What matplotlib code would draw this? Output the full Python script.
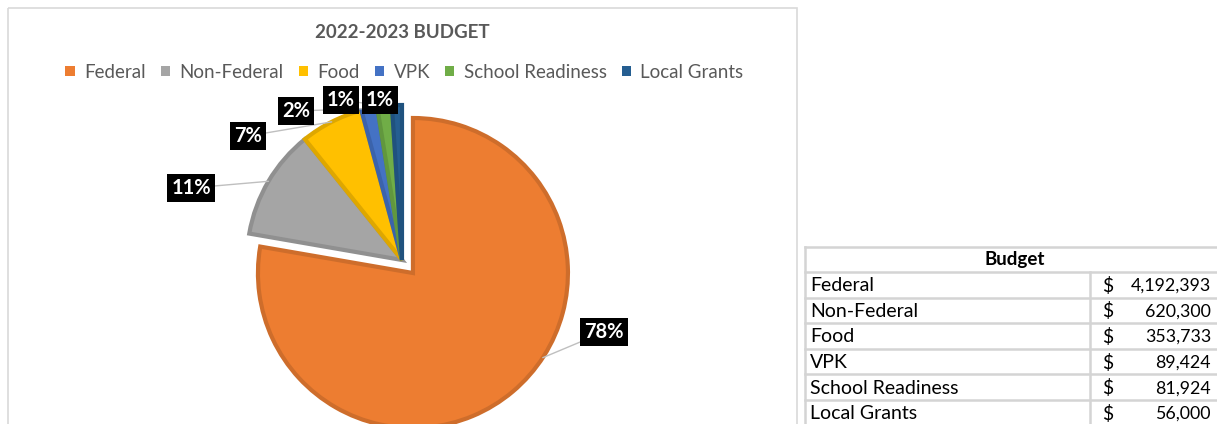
import matplotlib.pyplot as plt
from matplotlib.patches import Patch, Rectangle
from matplotlib.colors import to_rgb
import numpy as np

# Dữ liệu
categories = ['Federal', 'Non-Federal', 'Food', 'VPK', 'School Readiness', 'Local Grants']
budget = [4192393, 620300, 353733, 89424, 81924, 56000]
pct_labels = ['78%', '11%', '7%', '2%', '1%', '1%']
colors = ['#ED7D31', '#A5A5A5', '#FFC000', '#4472C4', '#70AD47', '#255E91']

plt.rcParams['font.family'] = ['Lato', 'DejaVu Sans']

W, H = 1217, 424
fig = plt.figure(figsize=(W / 100, H / 100), dpi=100)
ax = fig.add_axes([0, 0, 1, 1])

# Khung biểu đồ
ax.add_patch(Rectangle((8, 8), 789, 440, fill=False, ec='#d9d9d9', lw=1.2))

# Pie (trục y đảo ngược, tọa độ pixel)
wedges, _ = ax.pie(budget, colors=colors, startangle=-90, counterclock=True,
                   center=(402, 260), radius=155, explode=[17, 0, 0, 0, 0, 0],
                   wedgeprops=dict(linewidth=3))
for w, c in zip(wedges, colors):
    w.set_edgecolor(tuple(v * 0.87 for v in to_rgb(c)))
    w.set_joinstyle('miter')

# Nhãn phần trăm
label_xy = [(604, 332), (191, 188), (248, 136), (296, 111), (341, 100), (380, 100)]
leader_frac = [0.44, 0.5, 0.5, 0.5, 0.5, 0.5]
for w, txt, xy, fr in zip(wedges, pct_labels, label_xy, leader_frac):
    t = np.deg2rad(w.theta1 + fr * (w.theta2 - w.theta1))
    cx, cy = w.center
    px, py = cx + w.r * np.cos(t), cy + w.r * np.sin(t)
    ax.annotate(txt, xy=(px, py), xytext=xy, ha='center', va='center',
                color='white', fontsize=14.5, fontweight='bold',
                bbox=dict(boxstyle='square,pad=0.2', fc='black', ec='none'),
                arrowprops=dict(arrowstyle='-', color='#bfbfbf', lw=1,
                                shrinkA=0, shrinkB=0))

# Tiêu đề và chú thích
ax.text(402, 33, '2022-2023 BUDGET', ha='center', va='center',
        fontsize=13.5, fontweight='bold', color='#595959')
handles = [Patch(fc=c, ec='none') for c in colors]
leg = ax.legend(handles, categories, ncol=6, loc='center', bbox_to_anchor=(404.5 / W, 1 - 72 / H),
                frameon=False, fontsize=13.5, handlelength=0.5, handleheight=0.5,
                handletextpad=0.5, columnspacing=0.8, borderaxespad=0)
for t in leg.get_texts():
    t.set_color('#595959')

# Bảng
x_left, x_div, x_right = 805, 1090, 1230
y_top, y_head = 247, 272
row_h = 25.6
grid = '#d4d4d4'
ax.plot([x_left, x_right], [y_top, y_top], color=grid, lw=1.8)
ax.text((x_left + 1225) / 2, (y_top + y_head) / 2, 'Budget', ha='center', va='center',
        fontsize=13.5, fontweight='bold', color='black')
ys = [y_head + i * row_h for i in range(len(categories) + 1)]
for y in ys:
    ax.plot([x_left, x_right], [y, y], color=grid, lw=1.8)
ax.plot([x_left, x_left], [y_top, ys[-1]], color=grid, lw=1.8)
ax.plot([x_div, x_div], [y_head, ys[-1]], color=grid, lw=1.8)
for i, (cat, val) in enumerate(zip(categories, budget)):
    yc = ys[i] + row_h / 2 + 1
    ax.text(810, yc, cat, ha='left', va='center', fontsize=14, color='black')
    ax.text(1102, yc, '$', ha='left', va='center', fontsize=14, color='black')
    ax.text(1211, yc, f'{val:,}', ha='right', va='center', fontsize=12.8, color='black')

ax.set_xlim(0, W)
ax.set_ylim(H, 0)
ax.set_aspect('auto')
ax.axis('off')

fig.savefig('out.png', dpi=100)
